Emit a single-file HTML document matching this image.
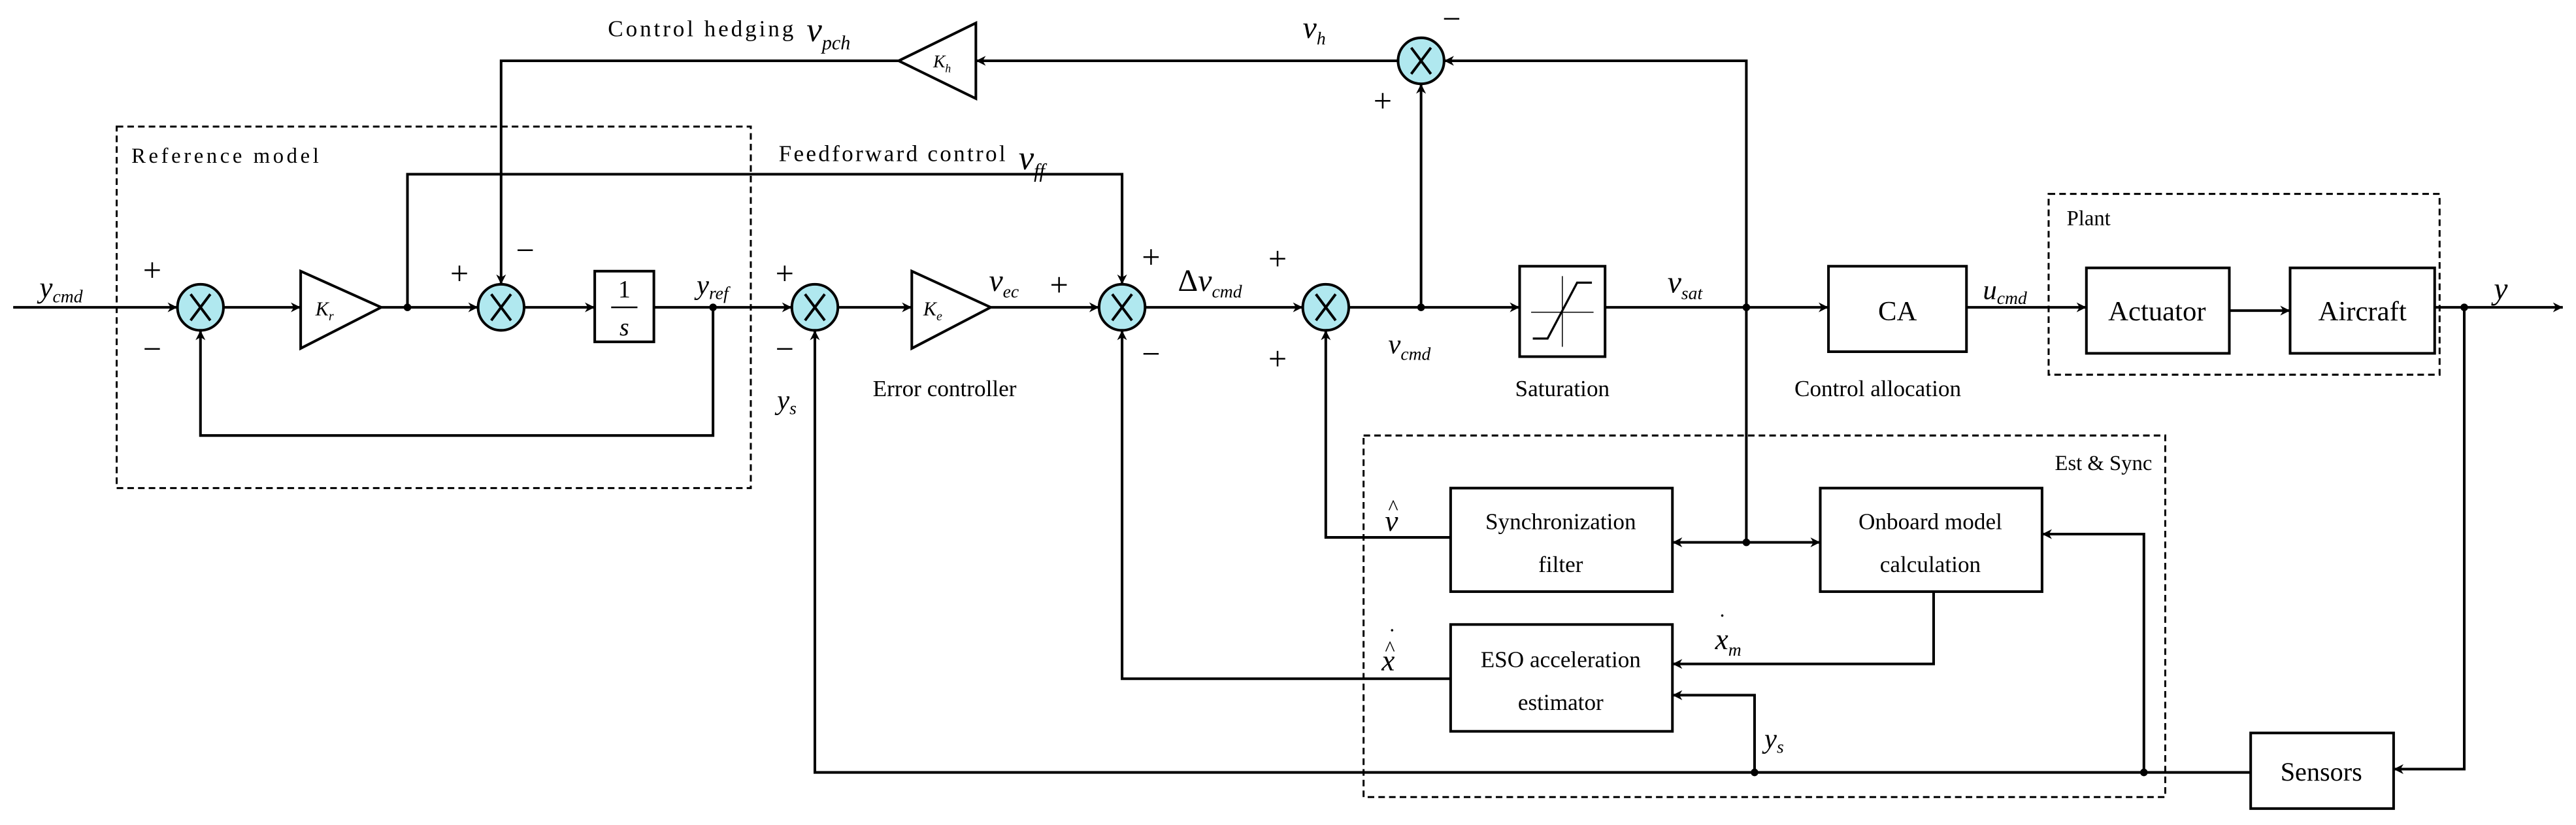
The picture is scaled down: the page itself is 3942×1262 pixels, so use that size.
<!DOCTYPE html>
<html><head><meta charset="utf-8"><style>
html,body{margin:0;padding:0;background:#fff;}
svg{display:block;}
svg text{font-family:"Liberation Serif","DejaVu Serif",serif !important;fill:#000;}
.m{font-style:italic;}
</style></head><body>
<svg width="3942" height="1262" viewBox="0 0 1568 502" xmlns="http://www.w3.org/2000/svg" font-family="Liberation Serif, serif">
<defs>
<marker id="a" viewBox="0 0 10 10" refX="10" refY="5" markerWidth="6" markerHeight="6" orient="auto" markerUnits="userSpaceOnUse">
<path d="M0,0 L10,5 L0,10 L3,5 z" fill="#000"/></marker>
</defs>
<g fill="none" stroke="#000" stroke-width="1.2" stroke-dasharray="4,2.5">
<rect x="71" y="77" width="386" height="220"/>
<rect x="1247" y="118" width="238" height="110"/>
<rect x="830" y="265" width="488" height="220"/>
</g>
<g fill="none" stroke="#000" stroke-width="1.6">
<path d="M8,187 H108" marker-end="url(#a)"/>
<path d="M136,187 H183" marker-end="url(#a)"/>
<path d="M232,187 H291" marker-end="url(#a)"/>
<path d="M319,187 H362" marker-end="url(#a)"/>
<path d="M398,187 H482" marker-end="url(#a)"/>
<path d="M434,187 V265 H122 V201" marker-end="url(#a)"/>
<path d="M510,187 H555" marker-end="url(#a)"/>
<path d="M603,187 H669" marker-end="url(#a)"/>
<path d="M697,187 H793" marker-end="url(#a)"/>
<path d="M821,187 H925" marker-end="url(#a)"/>
<path d="M977,187 H1113" marker-end="url(#a)"/>
<path d="M1197,187 H1270" marker-end="url(#a)"/>
<path d="M1357,189 H1394" marker-end="url(#a)"/>
<path d="M1482,187 H1560" marker-end="url(#a)"/>
<path d="M248,187 V106 H683 V173" marker-end="url(#a)"/>
<path d="M865,187 V51" marker-end="url(#a)"/>
<path d="M1063,187 V37 H879" marker-end="url(#a)"/>
<path d="M851,37 H594" marker-end="url(#a)"/>
<path d="M547,37 H305 V173" marker-end="url(#a)"/>
<path d="M1063,187 V330"/>
<path d="M1063,330 H1018" marker-end="url(#a)"/>
<path d="M1063,330 H1108" marker-end="url(#a)"/>
<path d="M883,327 H807 V201" marker-end="url(#a)"/>
<path d="M883,413 H683 V201" marker-end="url(#a)"/>
<path d="M1177,360 V404 H1018" marker-end="url(#a)"/>
<path d="M1500,187 V468 H1457" marker-end="url(#a)"/>
<path d="M1370,470 H496 V201" marker-end="url(#a)"/>
<path d="M1305,470 V325 H1243" marker-end="url(#a)"/>
<path d="M1068,470 V423 H1018" marker-end="url(#a)"/>
</g>
<g fill="#000">
<circle cx="248" cy="187" r="2.3"/><circle cx="434" cy="187" r="2.3"/>
<circle cx="865" cy="187" r="2.3"/><circle cx="1063" cy="187" r="2.3"/>
<circle cx="1063" cy="330" r="2.3"/><circle cx="1500" cy="187" r="2.3"/>
<circle cx="1305" cy="470" r="2.3"/><circle cx="1068" cy="470" r="2.3"/>
</g>
<g stroke="#000" stroke-width="1.6">
<g fill="#b0e8ef">
<circle cx="122" cy="187" r="14"/><circle cx="305" cy="187" r="14"/>
<circle cx="496" cy="187" r="14"/><circle cx="683" cy="187" r="14"/>
<circle cx="807" cy="187" r="14"/><circle cx="865" cy="37" r="14"/>
</g>
<path d="M116,179 L128,195 M128,179 L116,195 M299,179 L311,195 M311,179 L299,195 M490,179 L502,195 M502,179 L490,195 M677,179 L689,195 M689,179 L677,195 M801,179 L813,195 M813,179 L801,195 M859,29 L871,45 M871,29 L859,45" fill="none"/>
</g>
<g fill="#fff" stroke="#000" stroke-width="1.6">
<path d="M183,165 L232,187 L183,212 Z"/>
<path d="M555,165 L603,187 L555,212 Z"/>
<path d="M594,14 L547,37 L594,60 Z"/>
<rect x="362" y="165" width="36" height="43"/>
<rect x="925" y="162" width="52" height="55"/>
<rect x="1113" y="162" width="84" height="52"/>
<rect x="1270" y="163" width="87" height="52"/>
<rect x="1394" y="163" width="88" height="52"/>
<rect x="1370" y="446" width="87" height="46"/>
<rect x="883" y="297" width="135" height="63"/>
<rect x="1108" y="297" width="135" height="63"/>
<rect x="883" y="380" width="135" height="65"/>
</g>
<g fill="none" stroke="#000" stroke-width="1.3">
<path d="M932,190 H970 M951,168 V211" stroke-width="0.6"/>
<path d="M933,206 H942 L960,172 H969"/>
</g>
<line x1="372" y1="187" x2="388" y2="187" stroke="#000" stroke-width="1"/>
<g font-size="15">
<text x="380" y="181" text-anchor="middle">1</text>
<text x="380" y="204" text-anchor="middle" class="m">s</text>
<text x="80" y="99" font-size="13" textLength="114">Reference model</text>
<text x="1258" y="137" font-size="13">Plant</text>
<text x="1310" y="286" font-size="13" text-anchor="end">Est &amp; Sync</text>
<text x="370" y="22" font-size="14" textLength="113">Control hedging</text>
<text x="474" y="98" font-size="14" textLength="138">Feedforward control</text>
<text x="575" y="241" font-size="14" text-anchor="middle">Error controller</text>
<text x="951" y="241" font-size="14" text-anchor="middle">Saturation</text>
<text x="1143" y="241" font-size="14" text-anchor="middle">Control allocation</text>
<text x="1155" y="195" font-size="17" text-anchor="middle">CA</text>
<text x="1313" y="195" font-size="17" text-anchor="middle">Actuator</text>
<text x="1438" y="195" font-size="17" text-anchor="middle">Aircraft</text>
<text x="1413" y="475" font-size="16" text-anchor="middle">Sensors</text>
<text x="950" y="322" font-size="14" text-anchor="middle">Synchronization</text>
<text x="950" y="348" font-size="14" text-anchor="middle">filter</text>
<text x="1175" y="322" font-size="14" text-anchor="middle">Onboard model</text>
<text x="1175" y="348" font-size="14" text-anchor="middle">calculation</text>
<text x="950" y="406" font-size="14" text-anchor="middle">ESO acceleration</text>
<text x="950" y="432" font-size="14" text-anchor="middle">estimator</text>
<text x="24" y="181" class="m" font-size="18">y<tspan font-size="11" dy="3">cmd</tspan></text>
<text x="192" y="192" class="m" font-size="12">K<tspan font-size="8" dy="3">r</tspan></text>
<text x="562" y="192" class="m" font-size="12">K<tspan font-size="8" dy="3">e</tspan></text>
<text x="568" y="41" class="m" font-size="11">K<tspan font-size="7" dy="3">h</tspan></text>
<text x="424" y="179" class="m" font-size="17">y<tspan font-size="11" dy="3">ref</tspan></text>
<text x="473" y="249" class="m" font-size="17">y<tspan font-size="11" dy="3">s</tspan></text>
<text x="1074" y="455" class="m" font-size="17">y<tspan font-size="11" dy="3">s</tspan></text>
<text x="602" y="177" class="m" font-size="19">ν<tspan font-size="11" dy="4">ec</tspan></text>
<text x="717" y="177" font-size="19">Δ<tspan class="m">ν</tspan><tspan class="m" font-size="11" dy="4">cmd</tspan></text>
<text x="845" y="215" class="m" font-size="17">ν<tspan font-size="11" dy="4">cmd</tspan></text>
<text x="1015" y="178" class="m" font-size="19">ν<tspan font-size="11" dy="4">sat</tspan></text>
<text x="1207" y="182" class="m" font-size="17">u<tspan font-size="11" dy="3">cmd</tspan></text>
<text x="1518" y="182" class="m" font-size="19">y</text>
<text x="793" y="23" class="m" font-size="19">ν<tspan font-size="11" dy="4">h</tspan></text>
<text x="491" y="25" class="m" font-size="21">ν<tspan font-size="12" dy="5">pch</tspan></text>
<text x="620" y="103" class="m" font-size="21">ν<tspan font-size="12" dy="5">ff</tspan></text>
<text x="843" y="323" class="m" font-size="18">ν</text>
<text x="845" y="313" font-size="13">^</text>
<text x="841" y="408" class="m" font-size="18">x</text>
<text x="843" y="399" font-size="13">^</text>
<text x="845" y="392" font-size="14">˙</text>
<text x="1044" y="395" class="m" font-size="18">x<tspan font-size="11" dy="4">m</tspan></text>
<text x="1046" y="383" font-size="14">˙</text>
<g font-size="20">
<text x="87" y="171">+</text><text x="87" y="219">−</text>
<text x="274" y="173">+</text><text x="314" y="159">−</text>
<text x="472" y="173">+</text><text x="472" y="219">−</text>
<text x="639" y="180">+</text>
<text x="695" y="163">+</text><text x="695" y="222">−</text>
<text x="772" y="164">+</text><text x="772" y="225">+</text>
<text x="836" y="68">+</text><text x="878" y="18">−</text>
</g>
</g>
</svg>
</body></html>
